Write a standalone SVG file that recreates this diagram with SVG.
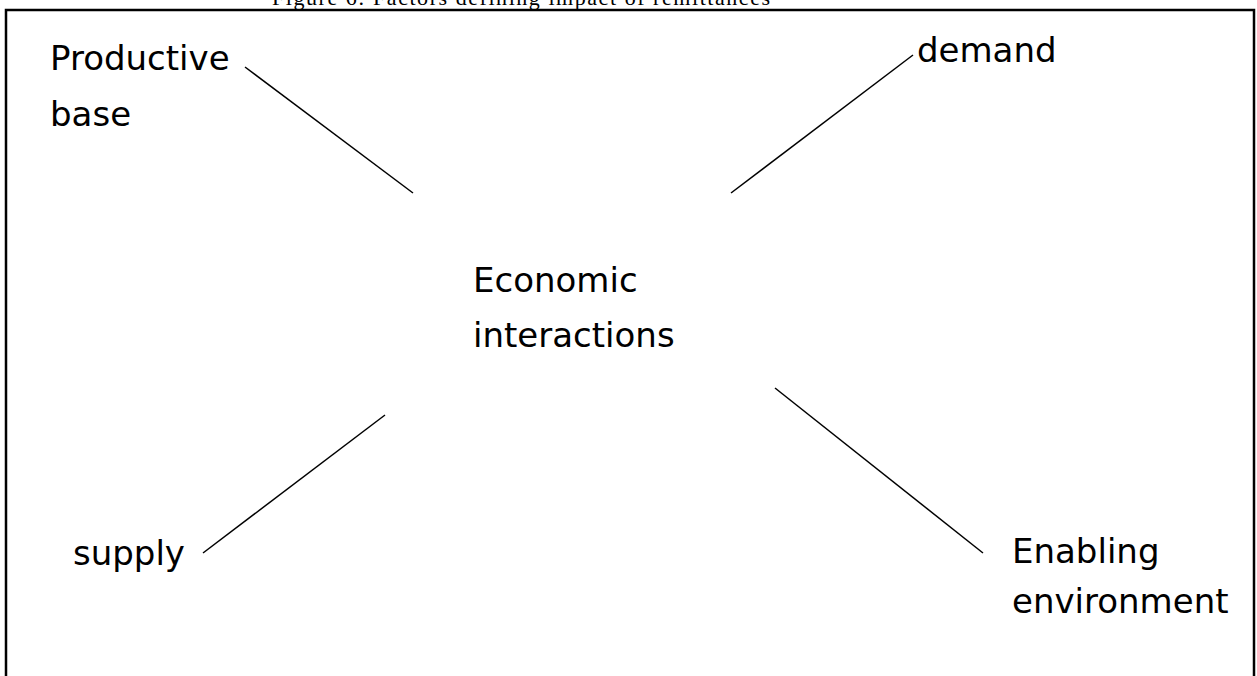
<svg xmlns="http://www.w3.org/2000/svg" width="1257" height="676" viewBox="0 0 1257 676">
<style>
.lbl{font-family:"DejaVu Sans","Liberation Sans",sans-serif;font-size:34px;fill:#000}
.title{font-family:"Liberation Serif",serif;font-size:22px;fill:#000}
.conn line{stroke:#000;stroke-width:1.5}
</style>
<rect width="1257" height="676" fill="#fff"/>
<text class="title" x="272" y="5" textLength="498" lengthAdjust="spacing">Figure 6: Factors defining impact of remittances</text>
<rect id="frame" x="6" y="10" width="1248" height="700" fill="none" stroke="#000" stroke-width="2.5"/>
<g id="connectors" class="conn">
<line x1="245" y1="67" x2="413" y2="193"/>
<line x1="913" y1="55" x2="731" y2="193"/>
<line x1="385" y1="415" x2="203" y2="553"/>
<line x1="775" y1="388" x2="983" y2="553"/>
</g>
<g id="productive-base"><text class="lbl" x="50" y="70">Productive</text><text class="lbl" x="50" y="126">base</text></g>
<g id="demand"><text class="lbl" x="917" y="62">demand</text></g>
<g id="economic-interactions"><text class="lbl" x="473" y="292">Economic</text><text class="lbl" x="473" y="347">interactions</text></g>
<g id="supply"><text class="lbl" x="73" y="565">supply</text></g>
<g id="enabling-environment"><text class="lbl" x="1012" y="563">Enabling</text><text class="lbl" x="1012" y="613">environment</text></g>
</svg>
